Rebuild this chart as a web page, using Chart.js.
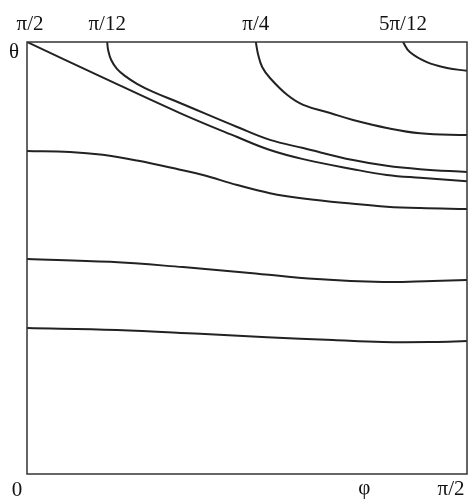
<!DOCTYPE html>
<html>
<head>
<meta charset="utf-8">
<script src="https://cdn.jsdelivr.net/npm/chart.js@4"></script>
<style>
  html, body { margin: 0; padding: 0; background: #fff; }
  #wrap { width: 475px; height: 500px; }
</style>
</head>
<body>
<div id="wrap"><canvas id="myChart" width="475" height="500"></canvas></div>
<script>
// phi (x) and theta (y) in degrees
const phiA = [0, 14.9, 31.3, 43.0, 49.7, 56.5, 66.7, 73.6, 80.4, 90];
const thetaA = [90, 82.9, 75.2, 70.2, 67.5, 65.6, 63.5, 62.3, 61.7, 61.0];

const phiB = [16.4, 16.6, 17.2, 18.4, 20.1, 22.5, 25.8, 31.3, 43.0, 49.7, 56.5, 66.7, 73.6, 80.4, 90];
const thetaB = [90, 88.3, 86.3, 84.4, 82.9, 81.3, 79.6, 77.3, 72.3, 69.6, 67.9, 65.4, 64.2, 63.5, 62.9];

const phiC = [46.8, 47.3, 48.1, 49.7, 53.2, 56.5, 62.0, 66.7, 73.6, 80.4, 90];
const thetaC = [90, 87.3, 84.8, 82.5, 79.0, 76.9, 75.2, 73.75, 72.1, 71.0, 70.6];

const phiD = [76.9, 78.3, 81.8, 85.9, 90];
const thetaD = [90, 87.9, 85.8, 84.6, 84.0];

const phiE = [0, 8.8, 15.5, 22.5, 31.3, 36.0, 43.0, 49.7, 56.5, 66.7, 73.6, 80.4, 90];
const thetaE = [67.3, 67.1, 66.5, 65.3, 63.4, 62.3, 60.2, 58.5, 57.4, 56.3, 55.7, 55.4, 55.2];

const phiF = [0, 17.0, 31.9, 45.6, 59.3, 72.8, 83.0, 90];
const thetaF = [44.8, 44.2, 43.1, 41.9, 40.6, 40.0, 40.2, 40.4];

const phiG = [0, 18.4, 35.4, 49.1, 62.6, 72.8, 83.0, 90];
const thetaG = [30.4, 30.0, 29.2, 28.5, 27.9, 27.5, 27.5, 27.7];

const topLabels = ['π/2', 'π/12', 'π/4', '5π/12'];
const topLabelPhi = [phiA[0], phiB[0], phiC[0], phiD[0]];

function toPoints(xs, ys) {
    let pts = [];
    for (let i = 0; i < xs.length; i++) {
        pts.push({ x: xs[i], y: ys[i] });
    }
    return pts;
}

function curve(xs, ys) {
    return {
        data: toPoints(xs, ys),
        showLine: true,
        borderColor: '#222',
        borderWidth: 2,
        pointRadius: 0,
        tension: 0.4,
        fill: false
    };
}

// frame and the letters round it
const framePlugin = {
    id: 'frame',
    afterDraw(chart) {
        const ctx = chart.ctx;
        const a = chart.chartArea;
        const xs = chart.scales.x;
        const ys = chart.scales.y;
        ctx.save();
        ctx.strokeStyle = '#333';
        ctx.lineWidth = 1.5;
        ctx.strokeRect(a.left, a.top, a.right - a.left, a.bottom - a.top);

        ctx.fillStyle = '#111';
        ctx.font = '21px "Liberation Serif"';
        ctx.textBaseline = 'alphabetic';
        ctx.textAlign = 'center';
        for (let i = 0; i < topLabels.length; i++) {
            let px = xs.getPixelForValue(topLabelPhi[i]);
            if (i == 0) px += 3;
            ctx.fillText(topLabels[i], px, a.top - 12);
        }
        ctx.fillText('θ', a.left - 13, ys.getPixelForValue(90) + 16);
        ctx.fillText('0', a.left - 10, a.bottom + 22);
        ctx.fillText('φ', xs.getPixelForValue(69), a.bottom + 20);
        ctx.fillText('π/2', xs.getPixelForValue(90) - 16, a.bottom + 21);
        ctx.restore();
    }
};

var ctx = document.getElementById('myChart').getContext('2d');
var chart = new Chart(ctx, {
    type: 'scatter',
    data: {
        datasets: [
            curve(phiA, thetaA),
            curve(phiB, thetaB),
            curve(phiC, thetaC),
            curve(phiD, thetaD),
            curve(phiE, thetaE),
            curve(phiF, thetaF),
            curve(phiG, thetaG)
        ]
    },
    options: {
        responsive: false,
        animation: false,
        layout: { padding: { left: 27, right: 8, top: 42, bottom: 26 } },
        plugins: {
            legend: { display: false },
            tooltip: { enabled: false }
        },
        scales: {
            x: { type: 'linear', min: 0, max: 90, display: false },
            y: { type: 'linear', min: 0, max: 90, display: false }
        }
    },
    plugins: [framePlugin]
});
</script>
</body>
</html>
